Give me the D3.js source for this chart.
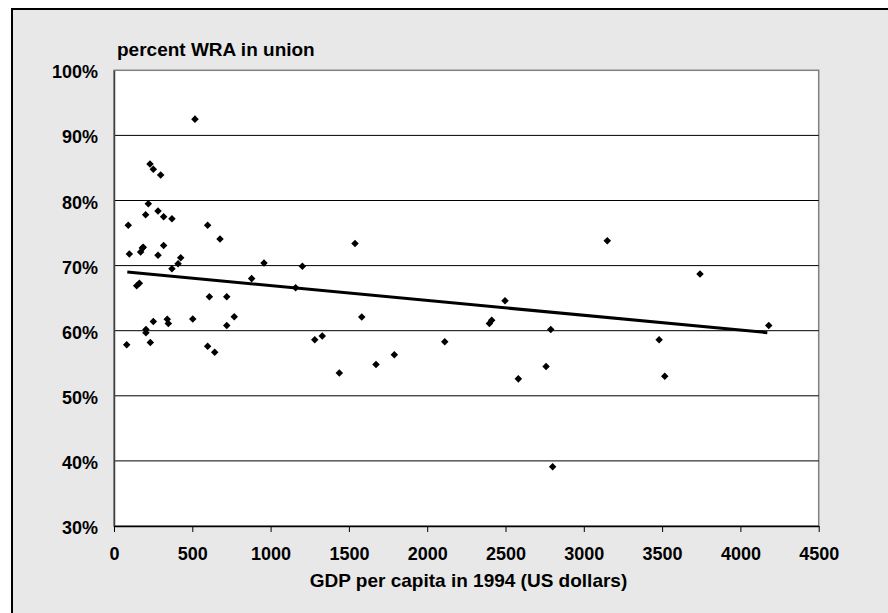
<!DOCTYPE html>
<meta charset="utf-8">
<style>
html, body { margin: 0; background: #fff; overflow: hidden; }
svg { display: block; }
text { font-family: "Liberation Sans", Arial, sans-serif; font-weight: bold; fill: #000; }
</style>
<script src="https://cdn.jsdelivr.net/npm/d3@7"></script>
<body>
<script>
// GDP per capita (US$, 1994) and percent of women of reproductive age in union
const gdp = [230, 251, 298, 219, 202, 281, 317, 370, 91, 598, 677, 98, 170, 181, 187,
  281, 317, 426, 409, 370, 958, 1203, 879, 1160, 609, 720, 145, 162, 251, 340,
  347, 503, 768, 720, 204, 204, 81, 232, 598, 643, 517, 1539, 1582, 1282, 1330,
  1439, 1673, 1790, 2112, 2397, 2412, 2497, 2789, 2759, 2582, 3150, 3742, 4181,
  3481, 3517, 2801];
const wra = [85.6, 84.8, 83.9, 79.5, 77.8, 78.4, 77.5, 77.2, 76.2, 76.2, 74.1, 71.8, 72.1, 72.7, 72.8,
  71.6, 73.1, 71.2, 70.3, 69.5, 70.4, 69.9, 68.0, 66.6, 65.2, 65.2, 66.9, 67.3, 61.4, 61.75,
  61.1, 61.8, 62.15, 60.8, 60.2, 59.7, 57.85, 58.2, 57.6, 56.7, 92.5, 73.4, 62.1, 58.6, 59.2,
  53.5, 54.8, 56.3, 58.3, 61.1, 61.6, 64.6, 60.2, 54.5, 52.6, 73.8, 68.7, 60.8,
  58.6, 53.0, 39.1];

// linear trend line as drawn (end points)
const trendX = [85, 4172];
const trendY = [69.0, 59.7];

const xTicks = [0, 500, 1000, 1500, 2000, 2500, 3000, 3500, 4000, 4500];
const yTicks = [30, 40, 50, 60, 70, 80, 90, 100];

const W = 888, H = 613;
const plot = { left: 114, right: 818.7, top: 70.3, bottom: 526 };

const svg = d3.select('body').append('svg')
  .attr('width', W + 60)
  .attr('height', H + 60);

// outer frame, runs past the right and bottom edges of the window
svg.append('rect')
  .attr('x', 12).attr('y', 9)
  .attr('width', W + 40).attr('height', H + 40)
  .attr('fill', '#e8e8e8')
  .attr('stroke', '#000')
  .attr('stroke-width', 2);

const x = d3.scaleLinear().domain([0, 4500]).range([plot.left, plot.right]);
const y = d3.scaleLinear().domain([30, 100]).range([plot.bottom, plot.top]);

// plot area
svg.append('rect')
  .attr('x', plot.left).attr('y', plot.top)
  .attr('width', plot.right - plot.left)
  .attr('height', plot.bottom - plot.top)
  .attr('fill', '#fff')
  .attr('stroke', '#808080')
  .attr('stroke-width', 1.5);

// gridlines
svg.append('g')
  .selectAll('line')
  .data(yTicks.filter(d => d > 30 && d < 100))
  .join('line')
    .attr('x1', plot.left).attr('x2', plot.right)
    .attr('y1', d => y(d)).attr('y2', d => y(d))
    .attr('stroke', '#000')
    .attr('stroke-width', 1);

// y axis
const yAxis = svg.append('g')
  .attr('transform', `translate(${plot.left},0)`)
  .call(d3.axisLeft(y).tickValues(yTicks).tickSize(0).tickPadding(16).tickFormat(d => d + '%'));
yAxis.select('.domain').attr('stroke', '#404040').attr('stroke-width', 1.5);
yAxis.selectAll('text')
  .style('font-size', '18px')
  .style('font-family', '"Liberation Sans", Arial, sans-serif')
  .style('font-weight', 'bold')
  .attr('dy', '0.42em');

// x axis
const xAxis = svg.append('g')
  .attr('transform', `translate(0,${plot.bottom})`)
  .call(d3.axisBottom(x).tickValues(xTicks).tickSize(6).tickSizeOuter(0).tickPadding(15).tickFormat(d3.format('d')));
xAxis.select('.domain').attr('stroke', '#000').attr('stroke-width', 1.5);
xAxis.selectAll('.tick line').attr('stroke', '#000');
xAxis.selectAll('text')
  .style('font-size', '18px')
  .style('font-family', '"Liberation Sans", Arial, sans-serif')
  .style('font-weight', 'bold');

// trend line
svg.append('path')
  .datum(d3.zip(trendX, trendY))
  .attr('fill', 'none')
  .attr('stroke', '#000')
  .attr('stroke-width', 3)
  .attr('d', d3.line().x(d => x(d[0])).y(d => y(d[1])));

// points
svg.append('g')
  .selectAll('path')
  .data(d3.zip(gdp, wra))
  .join('path')
    .attr('transform', d => `translate(${x(d[0])},${y(d[1])})`)
    .attr('d', d3.symbol(d3.symbolDiamond2, 36))
    .attr('fill', '#000');

// titles
svg.append('text')
  .attr('x', 117).attr('y', 56)
  .style('font-size', '19px')
  .text('percent WRA in union');

svg.append('text')
  .attr('x', 468.5).attr('y', 587)
  .attr('text-anchor', 'middle')
  .style('font-size', '19px')
  .text('GDP per capita in 1994 (US dollars)');
</script>
</body>
</html>
